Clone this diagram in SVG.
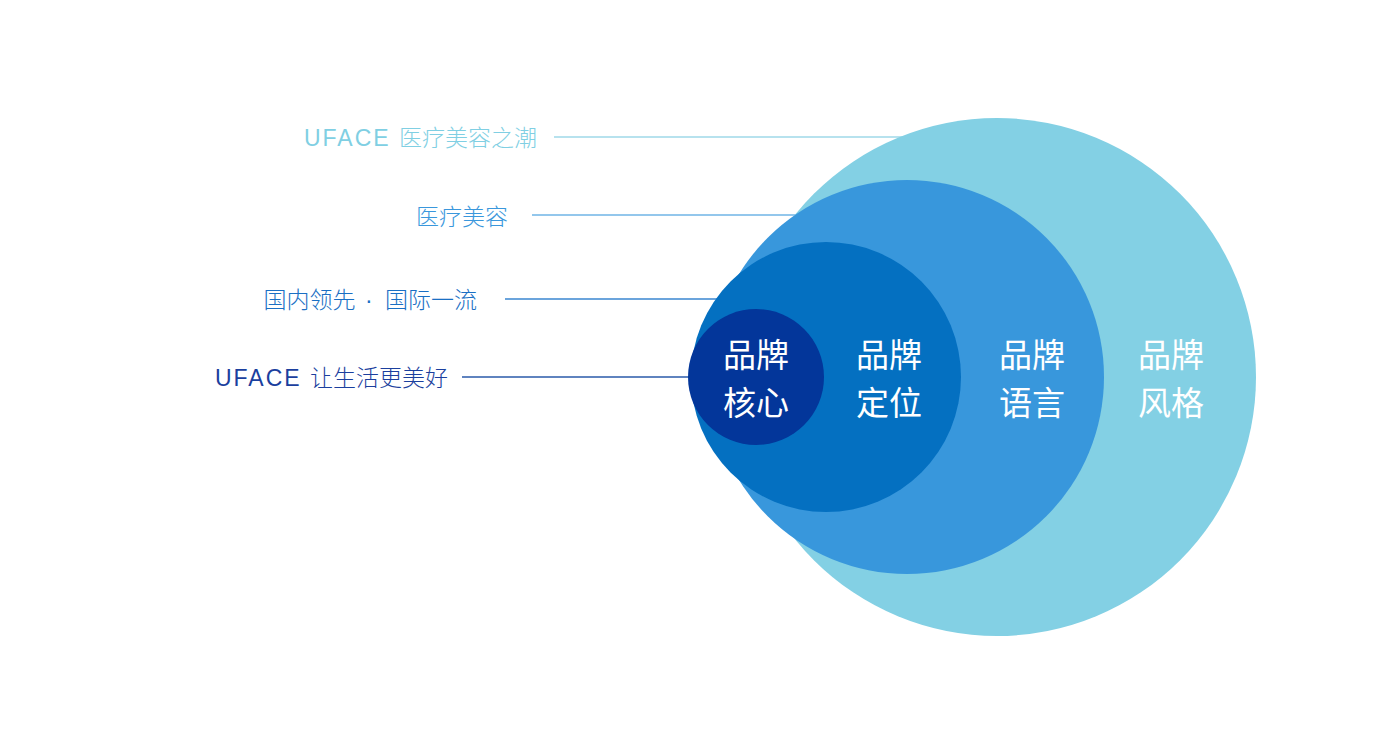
<svg xmlns="http://www.w3.org/2000/svg" width="1400" height="750" viewBox="0 0 1400 750">
<style>
.lbl{font-family:"Liberation Sans","Noto Sans CJK SC",sans-serif;font-size:23px;font-weight:300;text-anchor:end}
.ct{font-family:"Noto Sans CJK SC",sans-serif;font-size:33px;fill:#ffffff;text-anchor:middle}
.ln{stroke-width:1.5;fill:none}
.lat{letter-spacing:2px}
.dot{letter-spacing:3px}
</style>
<rect width="1400" height="750" fill="#ffffff"/>
<g id="connectors">
<line class="ln" x1="554" y1="137" x2="930" y2="137" stroke="#9fd8e8"/>
<line class="ln" x1="532" y1="215" x2="820" y2="215" stroke="#6fb4e6"/>
<line class="ln" x1="505" y1="299" x2="740" y2="299" stroke="#3a86d0"/>
<line class="ln" x1="462" y1="377" x2="700" y2="377" stroke="#2a5aaa"/>
</g>
<g id="style-circle">
<circle cx="997" cy="377" r="259" fill="#83d0e4"/>
<text class="ct" x="1171" y="367">品牌</text>
<text class="ct" x="1171" y="415">风格</text>
</g>
<g id="language-circle">
<circle cx="907" cy="377" r="197" fill="#3897dc"/>
<text class="ct" x="1032" y="367">品牌</text>
<text class="ct" x="1032" y="415">语言</text>
</g>
<g id="position-circle">
<circle cx="826" cy="377" r="135" fill="#0470c1"/>
<text class="ct" x="889" y="367">品牌</text>
<text class="ct" x="889" y="415">定位</text>
</g>
<g id="core-circle">
<circle cx="756" cy="377" r="68" fill="#03369a"/>
<text class="ct" x="756" y="367">品牌</text>
<text class="ct" x="756" y="415">核心</text>
</g>
<g id="label-1"><text class="lbl" x="537" y="146" fill="#80cfe3"><tspan class="lat">UFACE </tspan>医疗美容之潮</text></g>
<g id="label-2"><text class="lbl" x="508" y="225" fill="#3a97dc">医疗美容</text></g>
<g id="label-3"><text class="lbl" x="477" y="308" fill="#1a6fc4">国内领先<tspan class="dot"> · </tspan>国际一流</text></g>
<g id="label-4"><text class="lbl" x="448" y="386" fill="#1b3f9e"><tspan class="lat">UFACE </tspan>让生活更美好</text></g>
</svg>
